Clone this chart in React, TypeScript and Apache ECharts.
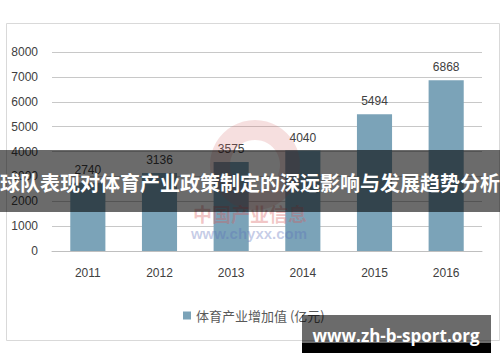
import React, { useEffect, useRef } from "react";
import * as echarts from "echarts";

const years = ["2011", "2012", "2013", "2014", "2015", "2016"];
const values = [2740, 3136, 3575, 4040, 5494, 6868];
const seriesName = "体育产业增加值 (亿元)";
const bannerTitle = "球队表现对体育产业政策制定的深远影响与发展趋势分析";
const siteText = "www.zh-b-sport.org";
const watermarkCn = "中国产业信息";
const watermarkUrl = "www.chyxx.com";

const BAR = "#7ba3b8";
const TXT = "#404040";

export default function App() {
  const ref = useRef<HTMLDivElement>(null);
  useEffect(() => {
    if (!ref.current) return;
    const chart = echarts.init(ref.current, undefined, { renderer: "svg" });
    chart.setOption({
      animation: false,
      backgroundColor: "#ffffff",
      textStyle: { fontFamily: "'Liberation Sans', 'Noto Sans CJK SC', sans-serif" },
      grid: { left: 52, right: 18, top: 52, bottom: 111, containLabel: false },
      legend: {
        show: true,
        left: 178,
        top: 304,
        itemWidth: 8,
        itemHeight: 8,
        itemGap: 4,
        icon: "rect",
        textStyle: { color: "#595959", fontSize: 13, fontFamily: "'Noto Sans CJK SC', sans-serif" },
        data: [seriesName],
      },
      xAxis: {
        type: "category",
        data: years,
        axisLine: { lineStyle: { color: "#bfbfbf" } },
        axisTick: { show: false },
        axisLabel: { color: TXT, fontSize: 12, margin: 16 },
      },
      yAxis: {
        type: "value",
        min: 0,
        max: 8000,
        interval: 1000,
        axisLine: { show: false },
        axisTick: { show: false },
        axisLabel: { color: TXT, fontSize: 12, margin: 14, formatter: (v: number) => String(v) },
        splitLine: { lineStyle: { color: "#c8c8c8", width: 1 } },
      },
      series: [
        {
          name: seriesName,
          type: "bar",
          data: values,
          barWidth: "49%",
          itemStyle: { color: BAR },
          label: { show: true, position: "top", distance: 7, color: TXT, fontSize: 12 },
        },
      ],
      graphic: [
        {
          type: "rect",
          left: 4,
          top: 21,
          shape: { width: 493, height: 317 },
          style: { fill: "none", stroke: "#d9d9d9", lineWidth: 1 },
          z: 1,
        },
        {
          type: "ring",
          shape: { cx: 255, cy: 165, r: 45, r0: 25 },
          style: { fill: "rgba(215,110,110,0.22)" },
          z: 50,
        },
        {
          type: "text",
          x: 250,
          y: 213,
          style: {
            text: watermarkCn,
            fill: "rgba(215,90,90,0.35)",
            font: "bold 19px 'Noto Sans CJK SC', sans-serif",
            align: "center",
            verticalAlign: "middle",
          },
          z: 50,
        },
        {
          type: "text",
          x: 249,
          y: 233,
          style: {
            text: watermarkUrl,
            fill: "rgba(90,110,185,0.35)",
            font: "bold 15px 'Liberation Sans', sans-serif",
            align: "center",
            verticalAlign: "middle",
          },
          z: 50,
        },
        {
          type: "rect",
          shape: { x: 0, y: 150, width: 500, height: 62 },
          style: { fill: "rgba(0,0,0,0.58)" },
          z: 100,
        },
        {
          type: "text",
          x: 250,
          y: 182,
          style: {
            text: bannerTitle,
            fill: "#ffffff",
            font: "bold 20px 'Noto Sans CJK SC', sans-serif",
            align: "center",
            verticalAlign: "middle",
          },
          z: 101,
        },
        {
          type: "rect",
          shape: { x: 302, y: 315, width: 189, height: 28 },
          style: { fill: "rgba(0,0,0,0.58)" },
          z: 100,
        },
        {
          type: "rect",
          shape: { x: 302, y: 343, width: 189, height: 10 },
          style: { fill: "#000000" },
          z: 100,
        },
        {
          type: "text",
          x: 396,
          y: 335,
          style: {
            text: siteText,
            fill: "#ffffff",
            font: "bold 17px 'Open Sans', sans-serif",
            align: "center",
            verticalAlign: "middle",
          },
          z: 101,
        },
      ],
    });
    return () => chart.dispose();
  }, []);
  return (
    <div
      ref={ref}
      style={{ position: "fixed", left: 0, top: 0, width: 500, height: 362 }}
    />
  );
}
